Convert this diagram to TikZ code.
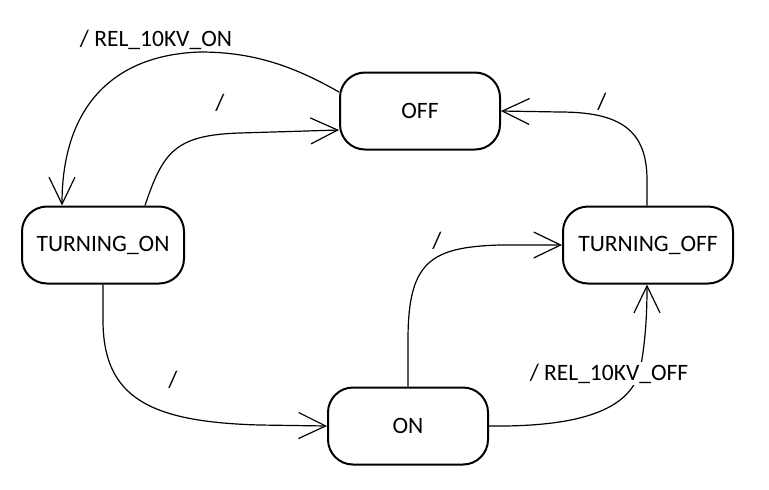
\documentclass[tikz,border=0pt]{standalone}
\usepackage{fontspec}
\setmainfont{Carlito}
\usetikzlibrary{arrows.meta}
\begin{document}
\begin{tikzpicture}[
x=0.5pt,y=-0.5pt,
state/.style={
draw,
line width=1pt,
rounded corners=12.5pt,
minimum width=80pt,
minimum height = 38.5pt,
font=\fontsize{11.75}{14}\selectfont
},
trans/.style={
draw,
line width=0.6pt,
-{Straight Barb[length=13.5pt,width=13pt]}
},
lbl/.style={
anchor=base,
inner sep=1pt,
font=\fontsize{11.75}{14}\selectfont
}
]
\useasboundingbox (0,0) rectangle (769,489);
\node[state] (off) at (420,111) {OFF};
\node[state, minimum width=81pt] (turnon) at (103,245) {TURNING\_ON};
\node[state, minimum width=85pt] (turnoff) at (648,245) {TURNING\_OFF};
\node[state] (on) at (408,426) {ON};

\draw[trans] ([yshift=9.5pt]off.west) .. controls (290,64) and (250,52) .. (200,52) .. controls (110,55) and (62,110) .. ([xshift=-20.5pt]turnon.north);
\draw[trans] ([xshift=21pt]turnon.north) .. controls (163,152) and (175,135) .. (240,133) -- ([yshift=-9.5pt]off.west);
\draw[trans] (turnon.south) -- (103,320) .. controls (103,398) and (150,422) .. (260,425) -- (on.west);
\draw[trans] (on.north) -- (408,340) .. controls (408,262) and (430,247) .. (500,245) -- (turnoff.west);
\draw[trans] (on.east) .. controls (580,427) and (630,410) .. (640,370) .. controls (646,340) and (647,310) .. ([xshift=-0.5pt]turnoff.south);
\draw[trans] ([xshift=-0.5pt]turnoff.north) -- (647,180) .. controls (647,130) and (620,112) .. (560,112) -- (off.east);

\node[lbl] (l1) at (156,46) {/ REL\_10KV\_ON};
\node[lbl] (l2) at (220,110) {/};
\node[lbl] (l3) at (173,387.5) {/};
\node[lbl] (l4) at (437,248) {/};
\node[lbl, fill=white] (l5) at (609,380) {/ REL\_10KV\_OFF};
\node[lbl] (l6) at (602,109.5) {/};
\end{tikzpicture}
\end{document}
